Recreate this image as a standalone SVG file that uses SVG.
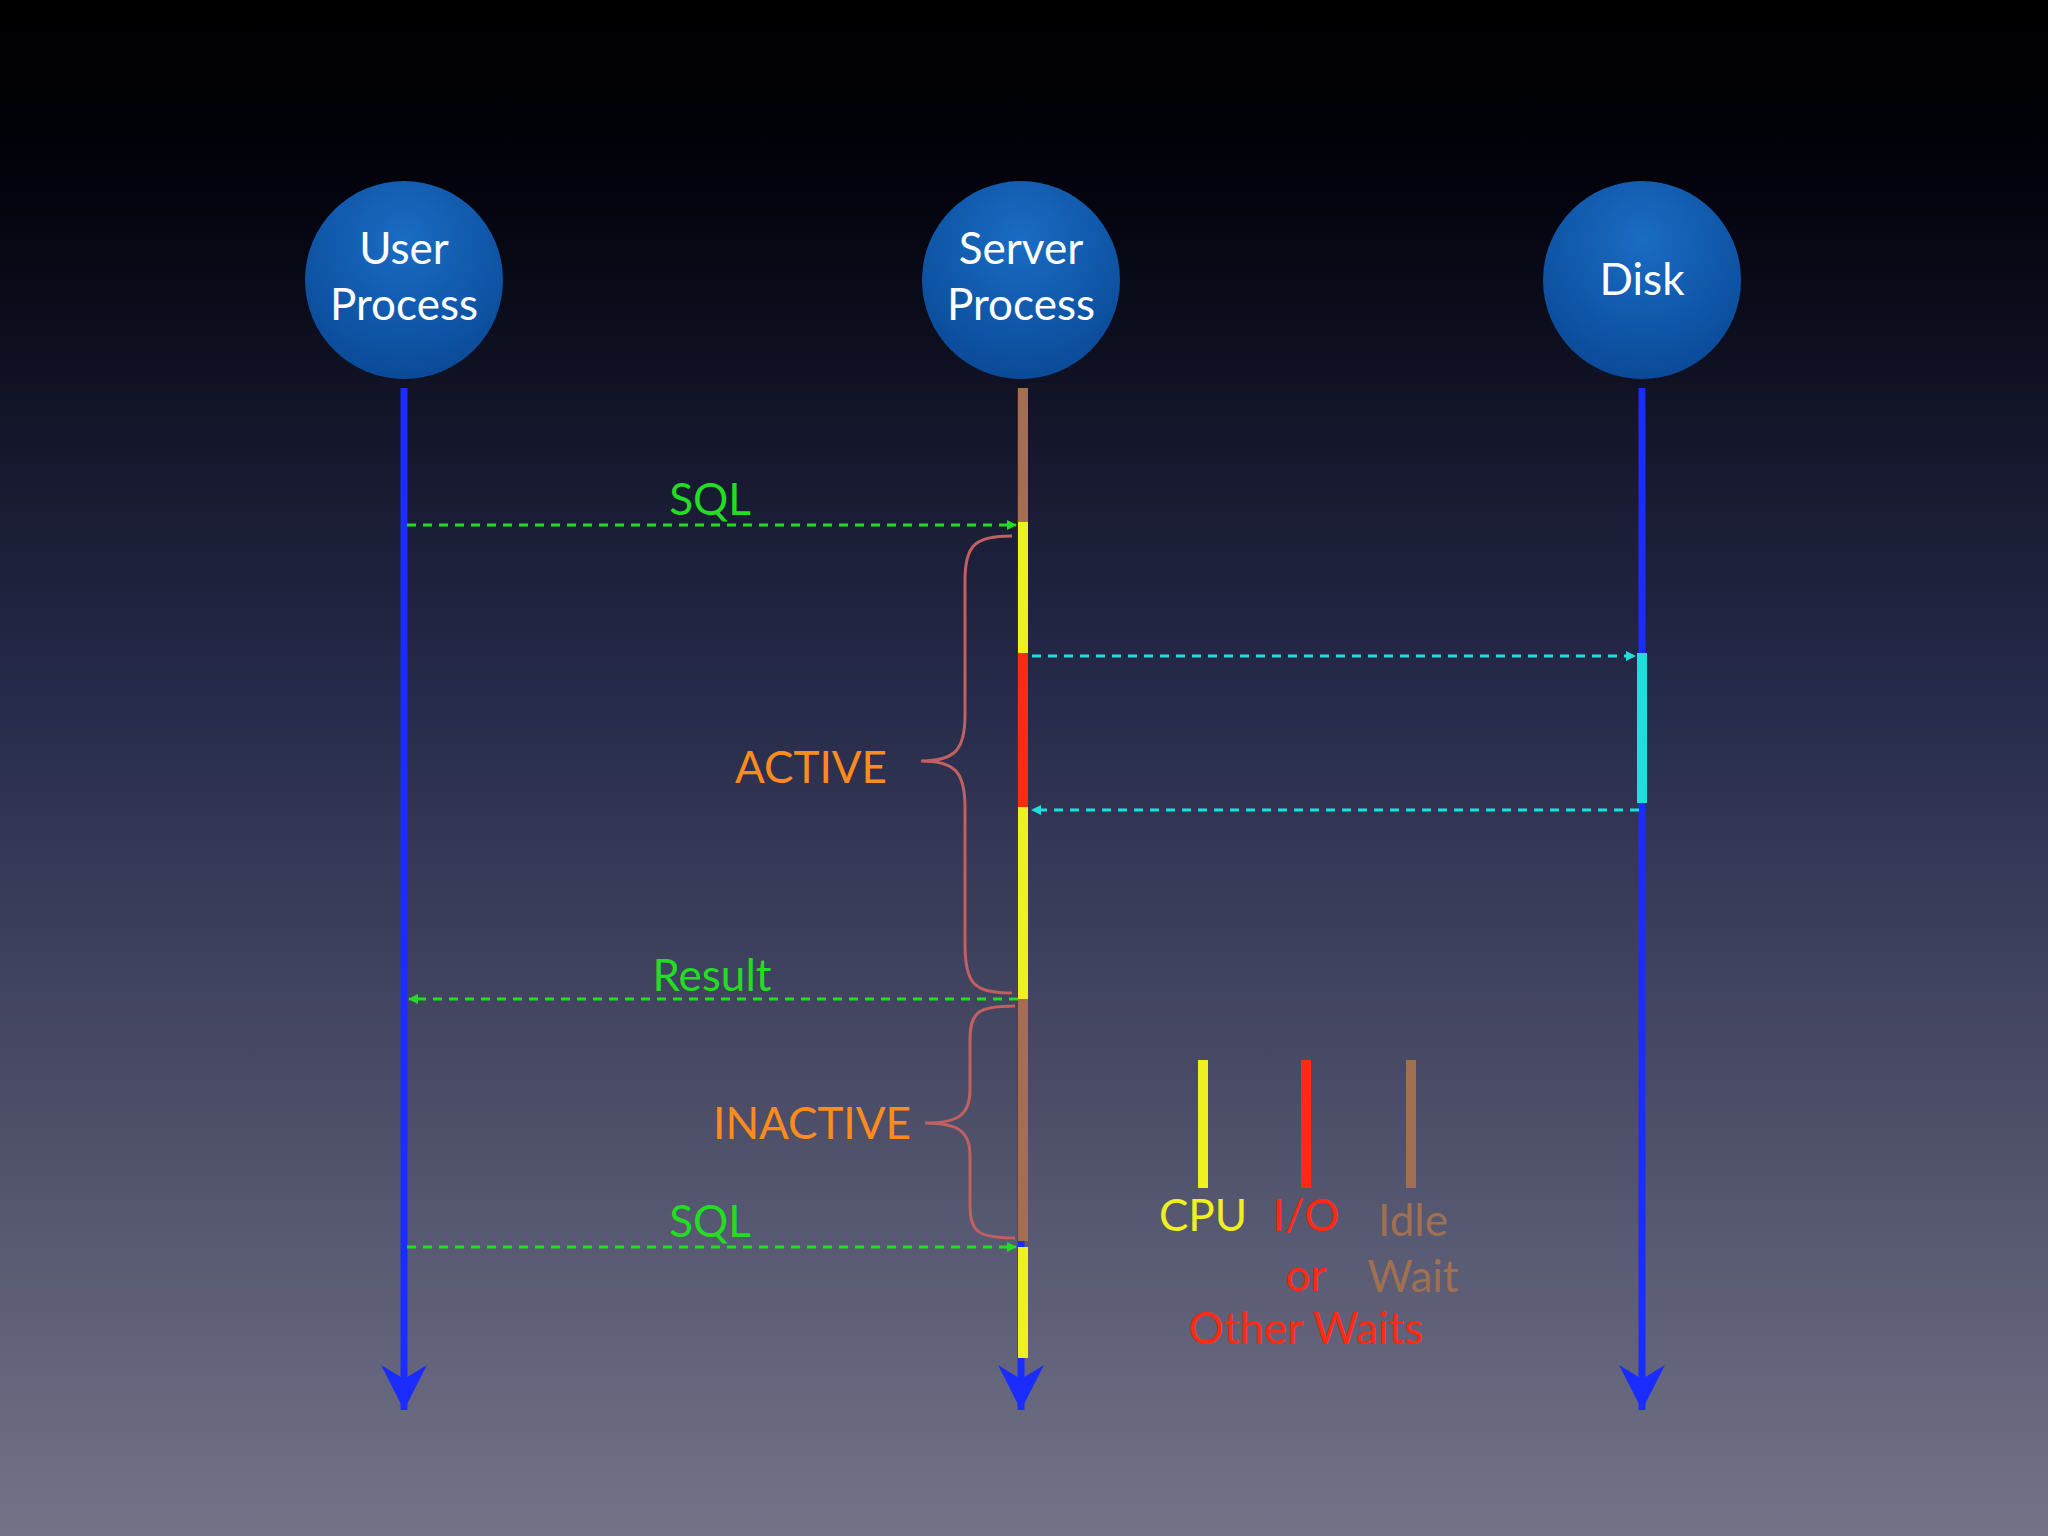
<svg xmlns="http://www.w3.org/2000/svg" width="2048" height="1536" viewBox="0 0 2048 1536">
<defs>
<linearGradient id="bg" x1="0" y1="0" x2="0" y2="1">
<stop offset="0" stop-color="#000000"/><stop offset="0.12" stop-color="#02030c"/><stop offset="0.45" stop-color="#262a4a"/><stop offset="1" stop-color="#737388"/>
</linearGradient>
<radialGradient id="node" cx="0.5" cy="0.3" r="0.7">
<stop offset="0" stop-color="#1a6cc4"/><stop offset="1" stop-color="#0a4a98"/>
</radialGradient>
<marker id="ag" markerWidth="10" markerHeight="10" refX="9" refY="5" orient="auto" markerUnits="userSpaceOnUse"><path d="M0,0 L10,5 L0,10 z" fill="#22dd22"/></marker>
<marker id="ac" markerWidth="10" markerHeight="10" refX="9" refY="5" orient="auto" markerUnits="userSpaceOnUse"><path d="M0,0 L10,5 L0,10 z" fill="#22dddd"/></marker>
<marker id="ab" markerWidth="50" markerHeight="50" refX="45" refY="25" orient="auto" markerUnits="userSpaceOnUse"><path d="M0,2 L45,25 L0,48 L14,25 z" fill="#1a2cff"/></marker>
<style>
text{font-family:Lato,"Open Sans",sans-serif;text-anchor:middle}
.n{fill:#fff;font-size:44px}
.life{stroke:#1a2cff;stroke-width:7}
.g{stroke:#22dd22;stroke-width:3;stroke-dasharray:9 7;fill:none}
.c{stroke:#22dddd;stroke-width:3;stroke-dasharray:9 7;fill:none}
.br{stroke:#c06060;stroke-width:3;fill:none}
.lbl{font-size:44px}
</style>
</defs>
<rect width="2048" height="1536" fill="url(#bg)"/>
<g id="user"><circle cx="404" cy="280" r="99" fill="url(#node)"/><text class="n" x="404" y="264">User</text><text class="n" x="404" y="320">Process</text></g>
<g id="server"><circle cx="1021" cy="280" r="99" fill="url(#node)"/><text class="n" x="1021" y="264">Server</text><text class="n" x="1021" y="320">Process</text></g>
<g id="disk"><circle cx="1642" cy="280" r="99" fill="url(#node)"/><text class="n" x="1642" y="295">Disk</text></g>
<g id="connectors">
<line class="life" x1="404" y1="388" x2="404" y2="1410" marker-end="url(#ab)"/>
<line class="life" x1="1021" y1="388" x2="1021" y2="1410" marker-end="url(#ab)"/>
<line class="life" x1="1642" y1="388" x2="1642" y2="1410" marker-end="url(#ab)"/>
<g stroke-width="10">
<line x1="1023" y1="388" x2="1023" y2="522" stroke="#a07050"/>
<line x1="1023" y1="522" x2="1023" y2="653" stroke="#f0f020"/>
<line x1="1023" y1="653" x2="1023" y2="807" stroke="#ff2a10"/>
<line x1="1023" y1="807" x2="1023" y2="999" stroke="#f0f020"/>
<line x1="1023" y1="999" x2="1023" y2="1241" stroke="#a07050"/>
<line x1="1023" y1="1247" x2="1023" y2="1358" stroke="#f0f020"/>
<line x1="1642" y1="653" x2="1642" y2="803" stroke="#22dddd"/>
</g>
<line class="g" x1="407" y1="525" x2="1016" y2="525" marker-end="url(#ag)"/>
<line class="c" x1="1032" y1="656" x2="1635" y2="656" marker-end="url(#ac)"/>
<line class="c" x1="1639" y1="810" x2="1032" y2="810" marker-end="url(#ac)"/>
<line class="g" x1="1018" y1="999" x2="409" y2="999" marker-end="url(#ag)"/>
<line class="g" x1="407" y1="1247" x2="1016" y2="1247" marker-end="url(#ag)"/>
<path class="br" d="M1012,536 C975,536 965,545 965,580 L965,715 C965,750 955,761 921,761 C955,761 965,772 965,807 L965,945 C965,985 975,993 1012,993"/>
<path class="br" d="M1015,1006 C978,1006 970,1012 970,1040 L970,1090 C970,1115 958,1123 925,1123 C958,1123 970,1131 970,1156 L970,1205 C970,1232 978,1238 1015,1238"/>
</g>
<g id="labels" class="lbl">
<text x="710" y="515" fill="#22dd22">SQL</text>
<text x="712" y="991" fill="#22dd22">Result</text>
<text x="710" y="1237" fill="#22dd22">SQL</text>
<text x="811" y="783" fill="#ff8c1a">ACTIVE</text>
<text x="812" y="1139" fill="#ff8c1a">INACTIVE</text>
</g>
<g id="legend" class="lbl">
<line x1="1203" y1="1060" x2="1203" y2="1188" stroke="#f0f020" stroke-width="10"/>
<line x1="1306" y1="1060" x2="1306" y2="1188" stroke="#ff2a10" stroke-width="10"/>
<line x1="1411" y1="1060" x2="1411" y2="1188" stroke="#a07050" stroke-width="10"/>
<text x="1203" y="1231" fill="#f0f020">CPU</text>
<text x="1306" y="1231" fill="#ff2a10">I/O</text>
<text x="1306" y="1291" fill="#ff2a10">or</text>
<text x="1306" y="1344" fill="#ff2a10">Other Waits</text>
<text x="1413" y="1236" fill="#a07050">Idle</text>
<text x="1413" y="1292" fill="#a07050">Wait</text>
</g>
</svg>
